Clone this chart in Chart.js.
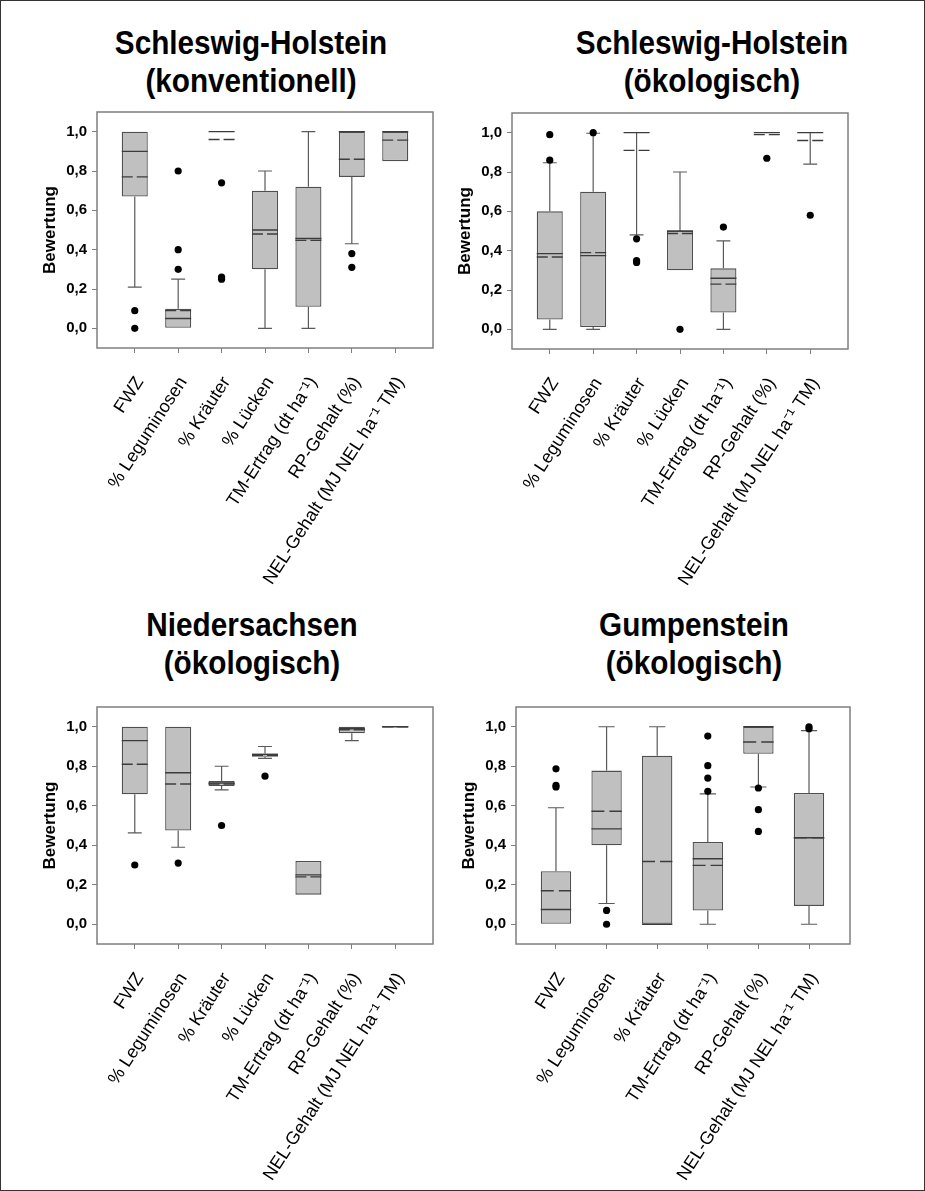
<!DOCTYPE html>
<html lang="de">
<head>
<meta charset="UTF-8">
<title>Bewertung - Boxplots</title>
<script src="https://cdn.jsdelivr.net/npm/chart.js@4.4.0/dist/chart.umd.min.js"></script>
<style>
  html, body { margin: 0; padding: 0; overflow: hidden; background: #fff; }
  #seite { position: relative; width: 925px; height: 1191px; font-family: "Liberation Sans", Arial, sans-serif; }
  #rand { position: absolute; left: 0; top: 0; width: 925px; height: 1191px; box-sizing: border-box; border: 1px solid #333; pointer-events: none; }
  .titel { position: absolute; width: 400px; text-align: center; font-weight: bold; font-size: 33px; line-height: 38px; color: #000; transform: scaleX(0.9); }
  canvas { position: absolute; }
</style>
</head>
<body>
<div id="seite">
  <div class="titel" style="left:51px; top:24px">Schleswig-Holstein<br>(konventionell)</div>
  <div class="titel" style="left:512px; top:24px">Schleswig-Holstein<br>(ökologisch)</div>
  <div class="titel" style="left:52px; top:606px">Niedersachsen<br>(ökologisch)</div>
  <div class="titel" style="left:494px; top:606px">Gumpenstein<br>(ökologisch)</div>

  <canvas id="c1" width="430" height="500" style="left:20px; top:98px"></canvas>
  <canvas id="c2" width="430" height="500" style="left:435px; top:99px"></canvas>
  <canvas id="c3" width="430" height="495" style="left:20px; top:693px"></canvas>
  <canvas id="c4" width="428" height="495" style="left:439px; top:693px"></canvas>
  <div id="rand"></div>
</div>

<script>
// Kategorien
const catsSH = ['FWZ', '% Leguminosen', '% Kräuter', '% Lücken', 'TM-Ertrag (dt ha⁻¹)', 'RP-Gehalt (%)', 'NEL-Gehalt (MJ NEL ha⁻¹ TM)'];
const catsGump = ['FWZ', '% Leguminosen', '% Kräuter', 'TM-Ertrag (dt ha⁻¹)', 'RP-Gehalt (%)', 'NEL-Gehalt (MJ NEL ha⁻¹ TM)'];
const yTicks = [0, 0.2, 0.4, 0.6, 0.8, 1.0];

// Schleswig-Holstein (konventionell)
const shkQ1   = [0.67, 0.00, null, 0.30, 0.11, 0.77, 0.85];
const shkQ3   = [1.00, 0.10, null, 0.70, 0.72, 1.00, 1.00];
const shkMed  = [0.90, 0.05, 1.00, 0.50, 0.457, 1.00, 1.00];
const shkMean = [0.77, 0.09, 0.96, 0.48, 0.447, 0.86, 0.957];
const shkLow  = [0.21, null, null, 0.00, 0.00, 0.43, null];
const shkHigh = [null, 0.25, null, 0.80, 1.00, null, null];
const shkOut  = [[0.09, 0.00], [0.80, 0.40, 0.30], [0.74, 0.26, 0.25], [], [], [0.38, 0.31], []];

// Schleswig-Holstein (ökologisch)
const shoQ1   = [0.05, 0.012, null, 0.30, 0.085, null, null];
const shoQ3   = [0.60, 0.70, null, 0.50, 0.31, null, null];
const shoMed  = [0.385, 0.375, 1.00, 0.50, 0.26, 1.00, 1.00];
const shoMean = [0.368, 0.39, 0.91, 0.487, 0.23, 0.99, 0.96];
const shoLow  = [0.00, 0.00, 0.48, null, 0.00, null, 0.84];
const shoHigh = [0.847, 0.997, null, 0.80, 0.45, null, null];
const shoOut  = [[0.86, 0.99], [1.00], [0.46, 0.35, 0.34], [0.00], [0.52], [0.87], [0.58]];

// Niedersachsen (ökologisch)
const nsQ1   = [0.658, 0.475, 0.70, 0.848, 0.15, 0.967, null];
const nsQ3   = [1.00, 1.00, 0.725, 0.865, 0.32, 1.00, null];
const nsMed  = [0.93, 0.767, 0.715, 0.86, 0.25, 0.99, 1.00];
const nsMean = [0.81, 0.71, 0.71, 0.855, 0.24, 0.985, 1.00];
const nsLow  = [0.463, 0.39, 0.68, 0.84, null, 0.93, null];
const nsHigh = [null, null, 0.80, 0.90, null, null, null];
const nsOut  = [[0.30], [0.31], [0.50], [0.75], [], [], []];

// Gumpenstein (ökologisch)
const guQ1   = [0.00, 0.40, 0.00, 0.07, 0.863, 0.093];
const guQ3   = [0.268, 0.778, 0.853, 0.417, 1.00, 0.665];
const guMed  = [0.075, 0.483, 0.00, 0.332, 1.00, 0.438];
const guMean = [0.17, 0.572, 0.318, 0.298, 0.923, 0.438];
const guLow  = [null, 0.105, null, 0.00, 0.695, 0.00];
const guHigh = [0.59, 1.00, 1.00, 0.66, null, 0.98];
const guOut  = [[0.787, 0.703, 0.695], [0.07, 0.00], [], [0.953, 0.803, 0.74, 0.673], [0.69, 0.58, 0.47], [1.00, 0.99]];

const HALB = 0.3;   // halbe Boxbreite in Kategorie-Einheiten
const KAPPE = 0.16; // halbe Breite der Whisker-Enden
const SCHRIFT = '"Liberation Sans", Arial, sans-serif';

// Rahmen um die Plotfläche
const rahmen = {
    id: 'rahmen',
    beforeDatasetsDraw(chart) {
        const { ctx, chartArea: a } = chart;
        ctx.save();
        ctx.strokeStyle = '#7f7f7f';
        ctx.lineWidth = 1.5;
        ctx.strokeRect(a.left, a.top, a.right - a.left, a.bottom - a.top);
        ctx.restore();
    }
};

function boxplot(id, cats, q1, q3, med, mean, low, high, out, p) {
    const boxen = [], whisker = [], mediane = [], mittel = [], punkte = [];
    cats.forEach((c, i) => {
        if (q1[i] !== null) boxen.push({ x: i, y: [q1[i], q3[i]] });
        const unten = q1[i] !== null ? q1[i] : med[i];
        const oben = q3[i] !== null ? q3[i] : med[i];
        if (low[i] !== null) {
            whisker.push({ x: i, y: unten }, { x: i, y: low[i] }, { x: i, y: null });
            whisker.push({ x: i - KAPPE, y: low[i] }, { x: i + KAPPE, y: low[i] }, { x: i, y: null });
        }
        if (high[i] !== null) {
            whisker.push({ x: i, y: oben }, { x: i, y: high[i] }, { x: i, y: null });
            whisker.push({ x: i - KAPPE, y: high[i] }, { x: i + KAPPE, y: high[i] }, { x: i, y: null });
        }
        if (med[i] !== null) mediane.push({ x: i - HALB, y: med[i] }, { x: i + HALB, y: med[i] }, { x: i, y: null });
        if (mean[i] !== null) mittel.push({ x: i - HALB, y: mean[i] }, { x: i + HALB, y: mean[i] }, { x: i, y: null });
        out[i].forEach(v => punkte.push({ x: i, y: v }));
    });

    new Chart(document.getElementById(id), {
        type: 'bar',
        data: {
            datasets: [
                {
                    type: 'scatter', data: punkte, order: 0,
                    pointRadius: 3.6, backgroundColor: '#000', borderWidth: 0
                },
                {
                    type: 'line', data: mittel, order: 1, borderColor: '#3c3c3c', borderWidth: 1.4,
                    borderDash: p.dash, pointRadius: 0, spanGaps: false, tension: 0
                },
                {
                    type: 'line', data: mediane, order: 2, borderColor: '#3c3c3c', borderWidth: 1.4,
                    pointRadius: 0, spanGaps: false, tension: 0
                },
                {
                    type: 'line', data: whisker, order: 3, borderColor: '#5a5a5a', borderWidth: 1.2,
                    pointRadius: 0, spanGaps: false, tension: 0
                },
                {
                    type: 'bar', data: boxen, order: 4, backgroundColor: '#c0c0c0',
                    borderColor: '#4f4f4f', borderWidth: 1.3, borderSkipped: false,
                    barPercentage: 0.6, categoryPercentage: 1.0
                }
            ]
        },
        options: {
            responsive: false,
            maintainAspectRatio: false,
            animation: false,
            events: [],
            layout: { padding: { top: 10, right: p.padRight, left: 0, bottom: 0 } },
            plugins: { legend: { display: false }, tooltip: { enabled: false }, title: { display: false } },
            scales: {
                x: {
                    type: 'linear', min: p.xMin, max: p.xMax, offset: false, bounds: 'data',
                    grid: { drawOnChartArea: false, drawTicks: true, tickLength: 5, color: '#7f7f7f', offset: false },
                    border: { display: false },
                    afterBuildTicks: s => { s.ticks = cats.map((c, i) => ({ value: i })); },
                    afterFit: s => { s.height = p.xHeight; },
                    ticks: {
                        autoSkip: false, minRotation: 57, maxRotation: 57, padding: 20, labelOffset: 5,
                        color: '#000', font: { family: SCHRIFT, size: 18 },
                        callback: v => cats[v]
                    }
                },
                y: {
                    type: 'linear', min: -0.1, max: 1.1, bounds: 'data',
                    grid: { drawOnChartArea: false, drawTicks: true, tickLength: 5, color: '#7f7f7f' },
                    border: { display: false },
                    afterBuildTicks: s => { s.ticks = yTicks.map(v => ({ value: v })); },
                    afterFit: s => { s.width = 77; },
                    title: {
                        display: true, text: 'Bewertung', color: '#000', padding: { top: 20, bottom: 0 },
                        font: { family: SCHRIFT, size: 17, weight: 'bold' }
                    },
                    ticks: {
                        padding: 5, color: '#000',
                        font: { family: SCHRIFT, size: 15, weight: 'bold' },
                        callback: v => v.toFixed(1).replace('.', ',')
                    }
                }
            }
        },
        plugins: [rahmen]
    });
}

const sieben = { xMin: -0.87, xMax: 6.87, padRight: 17, dash: [11, 4] };

boxplot('c1', catsSH, shkQ1, shkQ3, shkMed, shkMean, shkLow, shkHigh, shkOut, { ...sieben, xHeight: 250 });
boxplot('c2', catsSH, shoQ1, shoQ3, shoMed, shoMean, shoLow, shoHigh, shoOut, { ...sieben, xHeight: 250 });
boxplot('c3', catsSH, nsQ1, nsQ3, nsMed, nsMean, nsLow, nsHigh, nsOut, { ...sieben, xHeight: 244 });
boxplot('c4', catsGump, guQ1, guQ3, guMed, guMean, guLow, guHigh, guOut,
    { xMin: -0.79, xMax: 5.81, padRight: 17, dash: [13, 5], xHeight: 244 });
</script>
</body>
</html>
